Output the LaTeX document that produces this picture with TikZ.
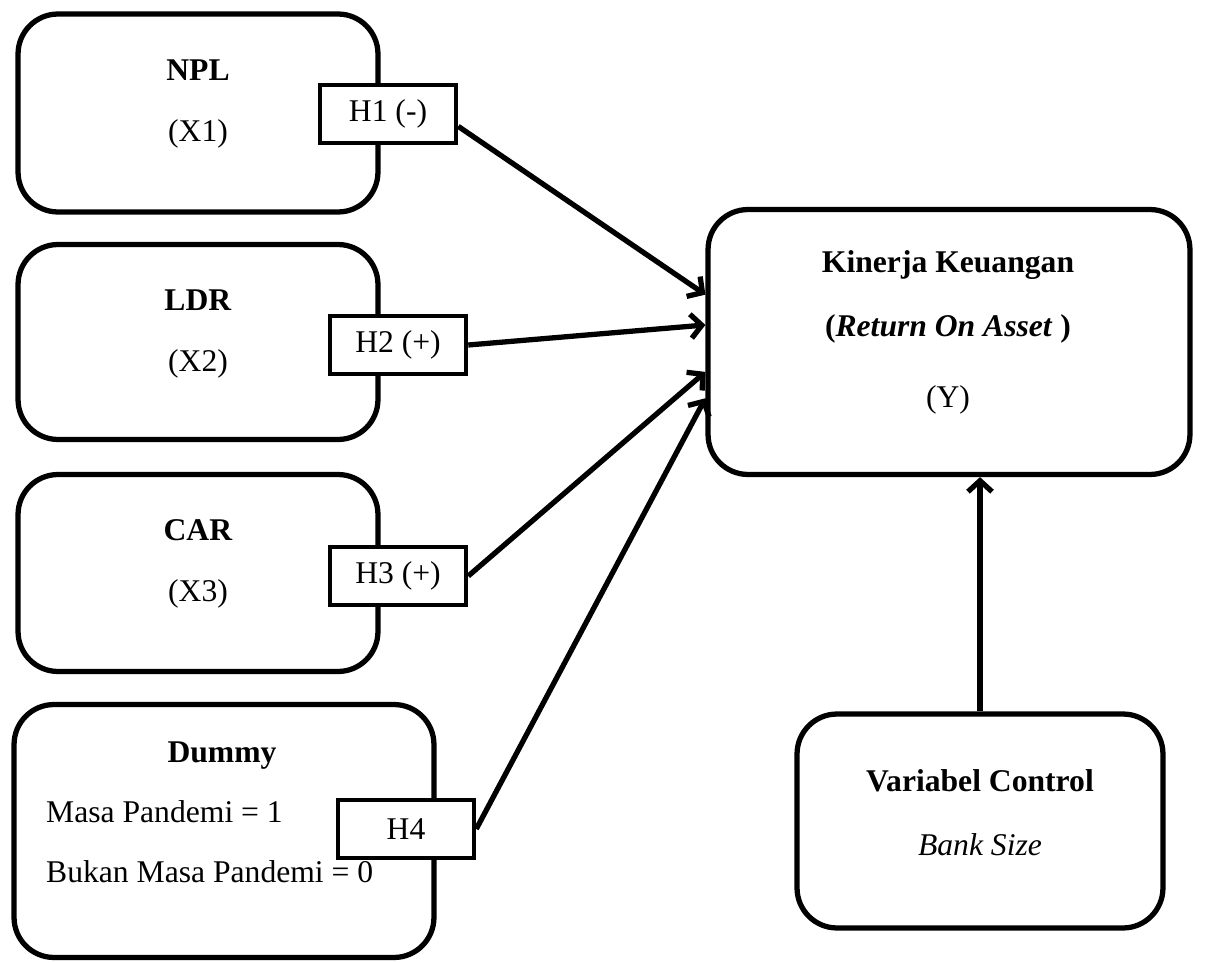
\documentclass[tikz,border=0pt]{standalone}
\usepackage{fontspec}
\setmainfont{Liberation Serif}
\usetikzlibrary{positioning,arrows.meta}

\begin{document}
\begin{tikzpicture}[x=0.02cm,y=-0.02cm,node distance=1.28cm,on grid,
	font=\fontsize{18}{22}\selectfont,
	box/.style={draw,line width=3pt,rounded corners=0.8cm},
	hyp/.style={draw,fill=white,line width=2.6pt,minimum width=2.72cm,minimum height=1.16cm,inner sep=0pt},
	arr/.style={line width=3pt,-{Straight Barb[length=2.2mm,width=4.8mm]}}]
	\useasboundingbox (0,0) rectangle (1208,963);
	% variable boxes
	\node[box,minimum width=7.2cm,minimum height=3.96cm] (npl) at (198,113) {};
	\node[box,minimum width=7.2cm,minimum height=3.9cm] (ldr) at (198,342) {};
	\node[box,minimum width=7.2cm,minimum height=3.94cm] (car) at (198,573) {};
	\node[box,minimum width=8.4cm,minimum height=5.06cm] (dum) at (224,831) {};
	\node[box,minimum width=9.64cm,minimum height=5.3cm] (kin) at (949,342) {};
	\node[box,minimum width=7.32cm,minimum height=4.28cm] (ctrl) at (980,821) {};
	% texts
	\node (npltxt) at (198,70) {\textbf{NPL}};
	\node (x1) [below=of npltxt] {(X1)};
	\node (ldrtxt) at (198,300) {\textbf{LDR}};
	\node (x2) [below=of ldrtxt] {(X2)};
	\node (cartxt) at (198,530) {\textbf{CAR}};
	\node (x3) [below=of cartxt] {(X3)};
	\node (dumtxt) at (222,756) {\textbf{Dummy}};
	\node[anchor=west] (masa) at (40,812) {Masa Pandemi = 1};
	\node[anchor=west] (bukan) at (40,872) {Bukan Masa Pandemi = 0};
	\node (kintxt) at (948,265) {\textbf{Kinerja Keuangan}};
	\node (roa) [below=of kintxt] {\textbf{(\textit{Return On Asset} )}};
	\node (ytxt) at (948,400) {(Y)};
	\node (ctrltxt) at (980,781) {\textbf{Variabel Control}};
	\node (bank) [below=of ctrltxt] {\textit{Bank Size}};
	% hypothesis labels
	\node[hyp] (h1) at (388,114) {H1 (-)};
	\node[hyp] (h2) at (398,345) {H2 (+)};
	\node[hyp] (h3) at (398,576) {H3 (+)};
	\node[hyp] (h4) at (406,829) {H4};
	% arrows
	\draw[arr] (h1.-10) -- (kin.169);
	\draw[arr] (h2.east) -- (kin.176);
	\draw[arr] (h3.east) -- (kin.187);
	\draw[arr] (h4.east) -- (kin.193);
	\draw[arr] (ctrl.north) -- (ctrl.north |- kin.south);
\end{tikzpicture}
\end{document}
